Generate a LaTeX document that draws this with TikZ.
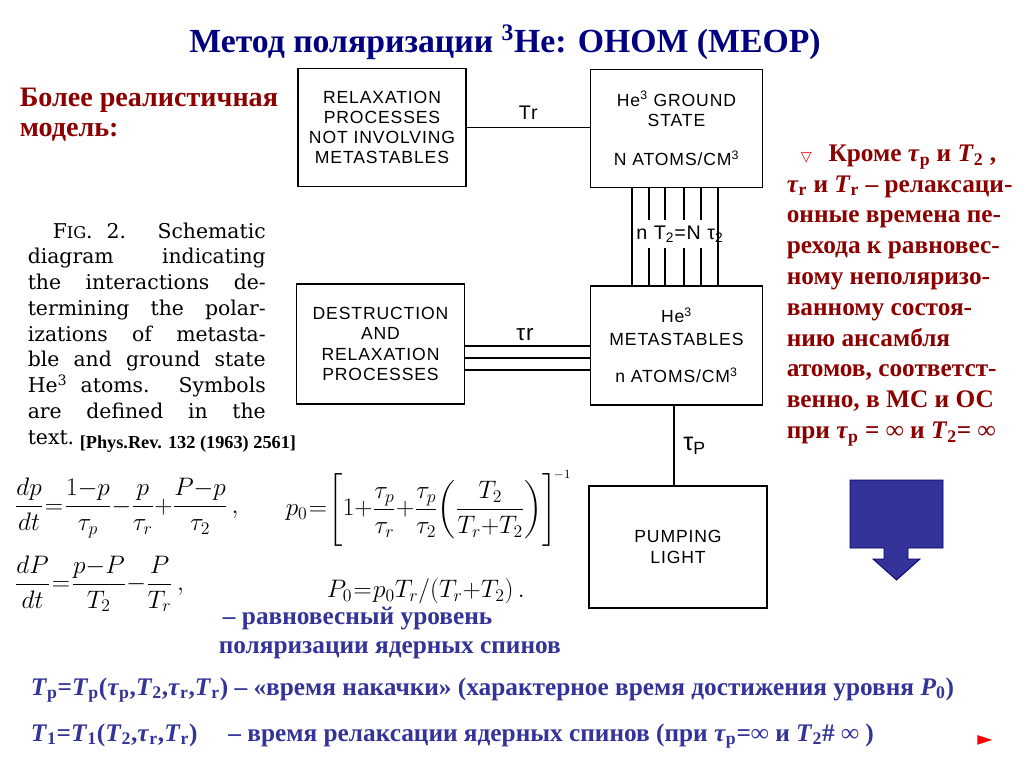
\RequirePackage{fix-cm}
\documentclass[tikz,border=0pt]{standalone}
\usepackage{amsmath}
\usepackage{fontspec}
\setmainfont{Liberation Serif}
\newfontfamily\boxfont[LetterSpace=5]{Liberation Sans}
\newfontfamily\capfont{DejaVu Serif}
\newfontfamily\symfont{DejaVu Sans}
\usetikzlibrary{calc,positioning}
\definecolor{TitleBlue}{RGB}{0,0,128}
\definecolor{TextBlue}{RGB}{51,51,153}
\definecolor{DarkRed}{RGB}{140,0,0}
\newcommand{\sbs}[1]{\textsubscript{#1}}

\begin{document}
\begin{tikzpicture}[x=0.25mm,y=-0.25mm,line width=1.1pt,
        box/.style = {draw, align=center, inner sep=0pt,
            minimum width=42mm, minimum height=29.5mm,
            font=\boxfont\fontsize{12.5}{14.4}\selectfont},
        tlabel/.style = {font=\boxfont\fontsize{14}{14}\selectfont},
        ru/.style = {font=\bfseries\fontsize{20}{21.9}\selectfont, align=left, inner sep=0pt},
        eq/.style = {anchor=west, inner sep=0pt, font=\fontsize{18}{22}\selectfont}]

        \useasboundingbox (0,0) rectangle (1024,768);
        \fill[white] (0,0) rectangle (1024,768);

        % Title
        \node[TitleBlue,font=\bfseries\fontsize{24}{24}\selectfont] (title) at (505,42)
            {Метод поляризации \textsuperscript{3}He: ОНОМ (МЕОР)};

        % Left heading
        \node[ru,DarkRed,anchor=north west] (model) at (19,87)
            {Более реалистичная\\модель:};

        % Boxes
        \node[box] (relax) at (382,127.5)
            {RELAXATION\\PROCESSES\\NOT INVOLVING\\METASTABLES};
        \node[box,minimum width=43mm] (ground) at (676.5,128.5)
            {He\textsuperscript{3} GROUND\\STATE\\[13.5pt]N ATOMS/CM\textsuperscript{3}};
        \node[box,minimum height=30mm] (destr) at (380.5,344)
            {DESTRUCTION\\AND\\RELAXATION\\PROCESSES};
        \node[box,minimum width=43mm,minimum height=29.75mm] (meta) at (676.5,345.5)
            {He\textsuperscript{3}\\[2pt]METASTABLES\\[12pt]n ATOMS/CM\textsuperscript{3}};
        \node[box,minimum width=44.5mm,minimum height=30.5mm] (pump) at (678,547)
            {PUMPING\\LIGHT};

        % Tr link
        \draw (relax.east) -- node[above=0.6mm,tlabel] {Tr} (relax.east -| ground.west);

        % Three links with tau_r
        \foreach \dy in {2,14,26} {
            \coordinate (l) at ($(destr.east)+(0,\dy)$);
            \draw (l) -- (l -| meta.west);
        }
        \node[tlabel,font=\boxfont\fontsize{16}{16}\selectfont] (taur) at (525,335) {τr};

        % Spin exchange bundle
        \node[tlabel,minimum height=6.75mm,inner sep=0pt] (ratio) at (680,234)
            {n T\sbs{2}=N τ\sbs{2}};
        \foreach \dx in {-44.5,41.5}
            \draw ($(ground.south)+(\dx,0)$) -- ($(meta.north)+(\dx,0)$);
        \foreach \dx in {-27.5,-11.5,7.5,24.5} {
            \coordinate (v) at ($(ground.south)+(\dx,0)$);
            \draw (v) -- (v |- ratio.north);
            \draw (v |- ratio.south) -- (v |- meta.north);
        }

        % Pumping link
        \draw ($(meta.south)+(-2.5,0)$) coordinate (p)
            -- node[right=1mm,font=\boxfont\fontsize{18}{18}\selectfont] {τ\sbs{P}} (p |- pump.north);

        % Caption of the figure
        \node[anchor=north west,inner sep=0pt,text width=59.5mm,align=justify,
            font=\capfont\fontsize{14.5}{18.3}\selectfont] (caption) at (27,222)
            {\hspace*{6.25mm}F{\fontsize{11.5}{12}\selectfont IG}. 2. Schematic\linebreak
             diagram indicating\linebreak
             the interactions de-\linebreak
             termining the polar-\linebreak
             izations of metasta-\linebreak
             ble and ground state\linebreak
             He\textsuperscript{3} atoms. Symbols\linebreak
             are defined in the\linebreak
             text.};
        \node[anchor=base west,inner sep=0pt,font=\bfseries\fontsize{13}{13}\selectfont]
            (ref) at (79,448) {[Phys.Rev. 132 (1963) 2561]};

        % Equations
        \node[eq] (eqp) at (14,508)
            {\medmuskip=0mu\thickmuskip=1mu$\displaystyle \frac{dp}{dt}=\frac{1-p}{\tau_p}-\frac{p}{\tau_r}+\frac{P-p}{\tau_2}\,,$};
        \node[eq] (eqP) at (14,584)
            {\medmuskip=0mu\thickmuskip=1mu$\displaystyle \frac{dP}{dt}=\frac{p-P}{T_2}-\frac{P}{T_r}\,,$};
        \node[eq] (eqpo) at (285,509)
            {\medmuskip=0mu\thickmuskip=1mu$\displaystyle p_0=\Biggl[1+\frac{\tau_p}{\tau_r}+\frac{\tau_p}{\tau_2}\biggl(\frac{T_2}{T_r+T_2}\biggr)\Biggr]^{\!\scriptscriptstyle -1}$};
        \node[eq] (eqPo) at (326,591)
            {\medmuskip=0mu\thickmuskip=1mu$P_0=p_0T_r/(T_r+T_2)\,.$};

        % Equilibrium level
        \node[ru,TextBlue,anchor=north west,font=\bfseries\fontsize{18}{21}\selectfont]
            (level) at (218,606) {\hspace*{3pt}– равновесный уровень\\поляризации ядерных спинов};

        % Right remark
        \node[ru,DarkRed,anchor=north west,font=\bfseries\fontsize{18}{21.9}\selectfont] (remark) at (786,144)
            {\hspace*{10pt}{\color{red}\symfont\fontsize{10}{10}\selectfont ▽}\hspace{12pt}Кроме \textit{τ}\sbs{p} и \textit{T}\sbs{2} ,\\
             \textit{τ}\sbs{r} и \textit{T}\sbs{r} – релаксаци-\\
             онные времена пе-\\
             рехода к равновес-\\
             ному неполяризо-\\
             ванному состоя-\\
             нию ансамбля\\
             атомов, соответст-\\
             венно, в МС и ОС\\
             при \textit{τ}\sbs{p} = ∞ и \textit{T}\sbs{2}= ∞};

        % Big arrow
        \filldraw[fill=TextBlue,draw=TitleBlue!80!black,line width=0.6pt]
            (850,480) -- (943,480) -- (943,548) -- (908,548) -- (908,559)
            -- (920,559) -- (896.5,580) -- (873,559) -- (884,559) -- (884,548)
            -- (850,548) -- cycle;

        % Bottom lines
        \node[ru,TextBlue,anchor=west,font=\bfseries\fontsize{18}{18}\selectfont] (tp) at (30,690)
            {\textit{T}\sbs{p}=\textit{T}\sbs{p}(\textit{τ}\sbs{p},\textit{T}\sbs{2},\textit{τ}\sbs{r},\textit{T}\sbs{r}) – «время накачки» (характерное время достижения уровня \textit{P}\sbs{0})};
        \node[ru,TextBlue,anchor=west,font=\bfseries\fontsize{18}{18}\selectfont] (tone) at (30,736)
            {\textit{T}\sbs{1}=\textit{T}\sbs{1}(\textit{T}\sbs{2},\textit{τ}\sbs{r},\textit{T}\sbs{r})\hspace{22pt}– время релаксации ядерных спинов (при \textit{τ}\sbs{p}=∞ и \textit{T}\sbs{2}\# ∞ )};
        \node[red,font=\symfont\fontsize{14}{14}\selectfont] (next) at (985,740) {►};

    \end{tikzpicture}
\end{document}
